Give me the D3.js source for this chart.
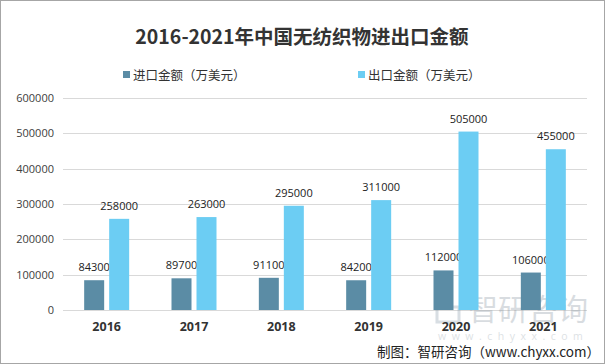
<!DOCTYPE html>
<html>
<head>
<meta charset="utf-8">
<script src="https://cdn.jsdelivr.net/npm/d3@7/dist/d3.min.js"></script>
<style>
  body { margin: 0; background: #fff; }
  svg { display: block; font-family: "Noto Sans CJK SC", "Open Sans", sans-serif; }
</style>
</head>
<body>
<svg id="chart" width="605" height="364"></svg>
<script>
// data
var years = ["2016", "2017", "2018", "2019", "2020", "2021"];
var importValues = [84300, 89700, 91100, 84200, 112000, 106000];
var exportValues = [258000, 263000, 295000, 311000, 505000, 455000];
var yTicks = [0, 100000, 200000, 300000, 400000, 500000, 600000];
var seriesNames = ["进口金额（万美元）", "出口金额（万美元）"];
var seriesColors = ["#5b8ca5", "#6ccdf3"];

var svg = d3.select("#chart");
var W = 605, H = 364;
var margin = {left: 63, right: 18, top: 98, bottom: 54};

// border
svg.append("rect")
  .attr("x", 0.5).attr("y", 0.5)
  .attr("width", W - 1).attr("height", H - 1)
  .attr("fill", "#fff").attr("stroke", "#a6a6a6");

svg.append("text")
  .attr("x", 302).attr("y", 44)
  .attr("text-anchor", "middle")
  .attr("font-size", 19.5).attr("font-weight", "bold")
  .attr("fill", "#333")
  .text("2016-2021年中国无纺织物进出口金额");

var x = d3.scaleBand().domain(years)
  .range([margin.left, W - margin.right]).paddingInner(0).paddingOuter(0);
var y = d3.scaleLinear().domain([0, 600000])
  .range([H - margin.bottom, margin.top]);

var barW = 20, gap = 5;

// gridlines
svg.append("g").selectAll("line")
  .data(yTicks).enter().append("line")
  .attr("x1", margin.left).attr("x2", W - margin.right)
  .attr("y1", function(d) { return Math.round(y(d)) + 0.5; })
  .attr("y2", function(d) { return Math.round(y(d)) + 0.5; })
  .attr("stroke", "#d9d9d9");

var yAxis = svg.append("g")
  .attr("transform", "translate(" + (margin.left - 9) + ",0)")
  .call(d3.axisLeft(y).tickValues(yTicks).tickSize(0).tickPadding(0).tickFormat(d3.format("d")));
yAxis.select(".domain").remove();
yAxis.selectAll("text").attr("font-size", 11).attr("fill", "#404040")
  .attr("font-family", "'Open Sans', sans-serif");

// watermark (drawn under the labels)
var wm = svg.append("g").attr("opacity", 0.3);
wm.append("rect").attr("x", 437).attr("y", 307).attr("width", 22).attr("height", 15)
  .attr("fill", "none").attr("stroke", "#7f95a6").attr("stroke-width", 3);
wm.append("text").attr("x", 468).attr("y", 320)
  .attr("font-size", 30).attr("fill", "#7f8f9b").text("智研咨询");
wm.append("text").attr("x", 438).attr("y", 340)
  .attr("font-size", 10.5).attr("fill", "#8f9ea8").attr("letter-spacing", 5.5)
  .attr("font-family", "'Open Sans', sans-serif").text("www.chyxx.com");

var xAxis = svg.append("g")
  .attr("transform", "translate(0," + (H - margin.bottom) + ")")
  .call(d3.axisBottom(x).tickSize(0).tickPadding(12));
xAxis.select(".domain").remove();
xAxis.selectAll("text").attr("font-size", 12.5).attr("font-weight", "bold").attr("fill", "#333")
  .attr("font-family", "'Open Sans', sans-serif");

var series = [importValues, exportValues];
series.forEach(function(vals, s) {
  var g = svg.append("g");
  var off = s === 0 ? -(barW + gap / 2) : gap / 2;
  g.selectAll("rect").data(vals).enter().append("rect")
    .attr("x", function(d, i) { return x(years[i]) + x.bandwidth() / 2 + off; })
    .attr("y", function(d) { return y(d); })
    .attr("width", barW)
    .attr("height", function(d) { return y(0) - y(d); })
    .attr("fill", seriesColors[s]);
  g.selectAll("text").data(vals).enter().append("text")
    .attr("x", function(d, i) { return x(years[i]) + x.bandwidth() / 2 + off + barW / 2; })
    .attr("y", function(d) { return y(d) - 9; })
    .attr("text-anchor", "middle")
    .attr("font-size", 11).attr("fill", "#222")
    .attr("font-family", "'Open Sans', sans-serif")
    .text(function(d) { return d; });
});

// legend
var legendX = [123, 358];
seriesNames.forEach(function(name, i) {
  svg.append("rect")
    .attr("x", legendX[i]).attr("y", 71)
    .attr("width", 7).attr("height", 7)
    .attr("fill", seriesColors[i]);
  svg.append("text")
    .attr("x", legendX[i] + 10).attr("y", 79.5)
    .attr("font-size", 12.5).attr("fill", "#333")
    .text(name);
});

svg.append("text")
  .attr("x", 600).attr("y", 357)
  .attr("text-anchor", "end")
  .attr("font-size", 13.5).attr("fill", "#222")
  .text("制图：智研咨询（www.chyxx.com）");
</script>
</body>
</html>
